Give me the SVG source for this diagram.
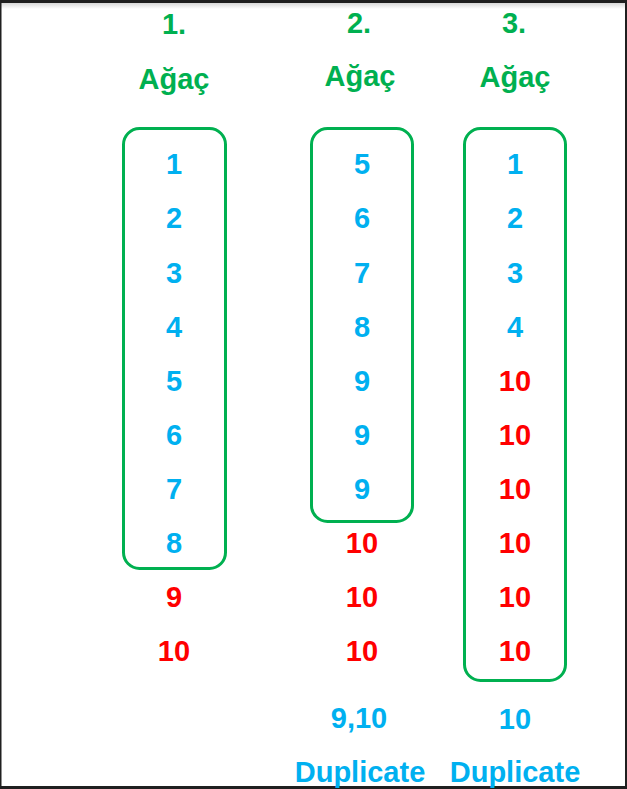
<svg xmlns="http://www.w3.org/2000/svg" width="627" height="789" viewBox="0 0 627 789">
<style>
text{font-family:"Liberation Sans",Arial,sans-serif;font-weight:bold;font-size:29px;text-anchor:middle}
.g{fill:#00B050}
.b{fill:#00B0F0}
.r{fill:#FF0000}
.box{fill:none;stroke:#00B050;stroke-width:3}
</style>
<defs>
<linearGradient id="sh" x1="0" y1="0" x2="0" y2="1">
<stop offset="0" stop-color="#d8d8d8"/>
<stop offset="1" stop-color="#ffffff"/>
</linearGradient>
</defs>
<rect x="0" y="0" width="627" height="789" fill="#ffffff"/>
<rect x="0" y="3" width="627" height="6" fill="url(#sh)"/>
<rect x="0" y="0" width="627" height="3" fill="#1f1f1f"/>
<rect x="0" y="786" width="627" height="3" fill="#1f1f1f"/>
<rect x="0" y="0" width="1.5" height="789" fill="#1f1f1f"/>
<rect x="625" y="0" width="2" height="789" fill="#1f1f1f"/>

<g id="tree1">
<text class="g" x="174" y="34">1.</text>
<text class="g" x="174" y="89">Ağaç</text>
<rect class="box" x="123.5" y="128.5" width="102" height="440" rx="16"/>
<text class="b" x="174" y="174">1</text>
<text class="b" x="174" y="228">2</text>
<text class="b" x="174" y="282.5">3</text>
<text class="b" x="174" y="336.5">4</text>
<text class="b" x="174" y="390.5">5</text>
<text class="b" x="174" y="444.5">6</text>
<text class="b" x="174" y="498.5">7</text>
<text class="b" x="174" y="553">8</text>
<text class="r" x="174" y="607">9</text>
<text class="r" x="174" y="661">10</text>
</g>

<g id="tree2">
<text class="g" x="359" y="32.5">2.</text>
<text class="g" x="360" y="86">Ağaç</text>
<rect class="box" x="311.5" y="128.5" width="101" height="393" rx="16"/>
<text class="b" x="362" y="174">5</text>
<text class="b" x="362" y="228">6</text>
<text class="b" x="362" y="282.5">7</text>
<text class="b" x="362" y="336.5">8</text>
<text class="b" x="362" y="390.5">9</text>
<text class="b" x="362" y="444.5">9</text>
<text class="b" x="362" y="498.5">9</text>
<text class="r" x="362" y="553">10</text>
<text class="r" x="362" y="607">10</text>
<text class="r" x="362" y="661">10</text>
<text class="b" x="359" y="728">9,10</text>
<text class="b" x="360" y="782">Duplicate</text>
</g>

<g id="tree3">
<text class="g" x="514" y="32.5">3.</text>
<text class="g" x="515" y="87">Ağaç</text>
<rect class="box" x="464.5" y="128.5" width="101" height="552" rx="16"/>
<text class="b" x="515" y="174">1</text>
<text class="b" x="515" y="228">2</text>
<text class="b" x="515" y="282.5">3</text>
<text class="b" x="515" y="336.5">4</text>
<text class="r" x="515" y="390.5">10</text>
<text class="r" x="515" y="444.5">10</text>
<text class="r" x="515" y="498.5">10</text>
<text class="r" x="515" y="553">10</text>
<text class="r" x="515" y="607">10</text>
<text class="r" x="515" y="661">10</text>
<text class="b" x="515" y="729">10</text>
<text class="b" x="515" y="782">Duplicate</text>
</g>

<g id="connectors"></g>
</svg>
